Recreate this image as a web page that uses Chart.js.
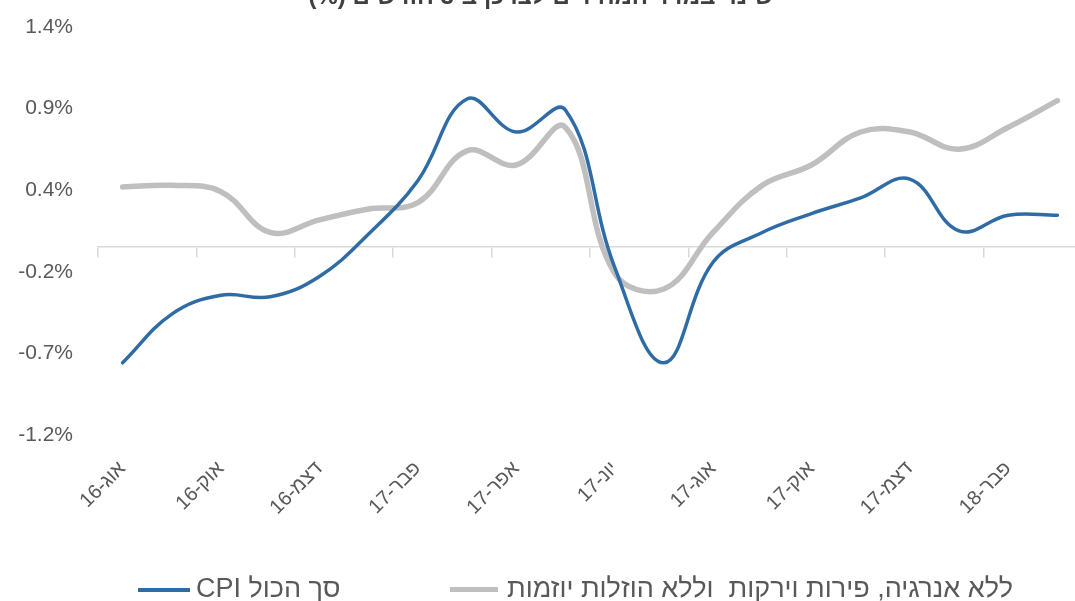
<!DOCTYPE html>
<html lang="he">
<head>
<meta charset="utf-8">
<title>CPI</title>
<script src="https://cdn.jsdelivr.net/npm/chart.js@4.4.1/dist/chart.umd.min.js"></script>
<style>
  html, body { margin: 0; padding: 0; background: #fff; overflow: hidden; }
  #wrap { position: relative; width: 1090px; height: 601px; }
  #legend {
    position: absolute; left: 0; top: 573px; width: 1090px; height: 30px;
    font-family: 'Liberation Sans', Arial, sans-serif; font-size: 27px; line-height: 30px;
    color: #595959; direction: ltr; white-space: pre;
  }
  #legend .item { position: absolute; top: 0; display: flex; align-items: center; }
  #legend .item:nth-child(1) { left: 138px; }
  #legend .item:nth-child(2) { left: 450px; }
  #legend .swatch { display: inline-block; width: 52px; height: 4px; margin-right: 6px; margin-top: 3px; }
  #legend .item:nth-child(2) .swatch { height: 5px; width: 48px; margin-right: 9px; }
</style>
</head>
<body>
<div id="wrap">
  <canvas id="cpiChart" width="1090" height="601"></canvas>
  <div id="legend"></div>
</div>
<script>
// months, Aug-16 .. Mar-18
const months = [
  'אוג-16', 'ספט-16', 'אוק-16', 'נוב-16', 'דצמ-16', 'ינו-17', 'פבר-17', 'מרץ-17',
  'אפר-17', 'מאי-17', 'יונ-17', 'יול-17', 'אוג-17', 'ספט-17', 'אוק-17', 'נוב-17',
  'דצמ-17', 'ינו-18', 'פבר-18', 'מרץ-18'
];

// headline CPI, %
const cpiTotal = [
  -0.74, -0.43, -0.31, -0.32, -0.19, 0.08, 0.42, 0.94, 0.73, 0.87,
  -0.13, -0.74, -0.10, 0.09, 0.21, 0.31, 0.43, 0.10, 0.20, 0.20
];

// CPI excl. energy, fruit & vegetables and government-initiated price cuts, %
const cpiCore = [
  0.38, 0.39, 0.35, 0.09, 0.17, 0.24, 0.28, 0.61, 0.52, 0.76,
  -0.17, -0.27, 0.09, 0.39, 0.52, 0.73, 0.73, 0.62, 0.76, 0.93
];

const yTickValues = [-1.2, -0.68, -0.16, 0.36, 0.88, 1.4];
const yTickLabels = ['-1.2%', '-0.7%', '-0.2%', '0.4%', '0.9%', '1.4%'];

const seriesNames = ['CPI סך הכול', 'ללא אנרגיה, פירות וירקות  וללא הוזלות יוזמות'];
const chartTitle = 'שינוי במדד המחירים לצרכן ב-3 חודשים (%)';

const FONT = "'Liberation Sans', Arial, sans-serif";
const TEXT = '#595959';
const BLUE = '#2f6ca6';
const GREY = '#bfbfbf';
const AXIS = '#d9d9d9';

// legend as html, built from the datasets
const htmlLegend = {
  id: 'htmlLegend',
  afterUpdate(chart) {
    const box = document.getElementById('legend');
    box.innerHTML = '';
    chart.data.datasets.forEach(ds => {
      const item = document.createElement('div');
      item.className = 'item';
      const swatch = document.createElement('span');
      swatch.className = 'swatch';
      swatch.style.background = ds.borderColor;
      const text = document.createElement('span');
      text.textContent = ds.label;
      item.append(swatch, text);
      box.append(item);
    });
  }
};

const ctx = document.getElementById('cpiChart').getContext('2d');

new Chart(ctx, {
  type: 'line',
  data: {
    labels: months,
    datasets: [
      {
        label: seriesNames[0],
        data: cpiTotal,
        borderColor: BLUE,
        backgroundColor: BLUE,
        borderWidth: 3.5,
        pointRadius: 0,
        tension: 0.4,
        borderCapStyle: 'round',
        xAxisID: 'x'
      },
      {
        label: seriesNames[1],
        data: cpiCore,
        borderColor: GREY,
        backgroundColor: GREY,
        borderWidth: 5.5,
        pointRadius: 0,
        tension: 0.4,
        borderCapStyle: 'round',
        xAxisID: 'x'
      }
    ]
  },
  options: {
    responsive: false,
    animation: false,
    layout: { padding: { left: 0, right: 8, top: 0, bottom: 0 } },
    scales: {
      x: {
        type: 'category',
        offset: true,
        // hidden tick marks only used to push the labels down
        grid: { display: false, drawTicks: true, tickLength: 22 },
        border: { display: false },
        ticks: {
          autoSkip: false,
          minRotation: 45,
          maxRotation: 45,
          padding: 0,
          color: TEXT,
          font: { family: FONT, size: 20 },
          callback: (v, i) => (i % 2 === 0 ? months[i] : '')
        },
        afterFit(scale) { scale.height = 166; }
      },
      // horizontal axis line drawn through zero, with tick marks every two months
      x2: {
        type: 'category',
        axis: 'x',
        position: { y: 0 },
        offset: true,
        grid: {
          offset: true,
          drawOnChartArea: false,
          drawTicks: true,
          tickLength: 10,
          lineWidth: 1.5,
          color: (c) => (c.index % 2 === 0 ? AXIS : 'rgba(0,0,0,0)')
        },
        border: { display: true, color: AXIS, width: 1.5 },
        ticks: { display: false }
      },
      y: {
        min: -1.2,
        max: 1.4,
        grid: { display: false, drawTicks: true, tickLength: 25 },
        border: { display: false },
        afterBuildTicks(scale) {
          scale.ticks = yTickValues.map(v => ({ value: v }));
        },
        ticks: {
          padding: 0,
          color: TEXT,
          font: { family: FONT, size: 21 },
          callback: (v, i) => yTickLabels[i]
        },
        afterFit(scale) { scale.width = 98; }
      }
    },
    plugins: {
      title: {
        display: true,
        // RLE ... PDF so the canvas lays the heading out right-to-left
        text: '\u202B' + chartTitle + '\u202C',
        color: '#404040',
        font: { family: FONT, size: 24, weight: 'bold' },
        padding: { top: -17, bottom: 15 }
      },
      legend: { display: false },
      tooltip: { enabled: false }
    }
  },
  plugins: [htmlLegend]
});
</script>
</body>
</html>
